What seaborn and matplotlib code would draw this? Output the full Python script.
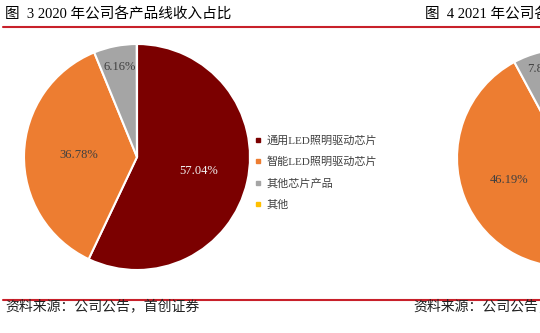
import matplotlib
matplotlib.use("Agg")
import matplotlib.pyplot as plt
import seaborn as sns
import numpy as np
from matplotlib.lines import Line2D

# ---- data ----
categories = ["通用LED照明驱动芯片", "智能LED照明驱动芯片", "其他芯片产品", "其他"]
share_2020 = [57.04, 36.78, 6.16, 0.02]
share_2021 = [45.95, 46.19, 7.85, 0.01]
colors = ["#7B0000", "#ED7D31", "#A5A5A5", "#FFC000"]
title_2020 = "图  3 2020 年公司各产品线收入占比"
title_2021 = "图  4 2021 年公司各产品线收入占比"
source_text = "资料来源：公司公告，首创证券"

sns.set_theme(style="white")
plt.rcParams["font.family"] = ["Liberation Serif", "Noto Sans CJK SC", "DejaVu Sans"]

W, H = 540, 333
fig = plt.figure(figsize=(W / 100, H / 100), dpi=100)
fig.patch.set_facecolor("white")


def px_axes(x0, y0, x1, y1):
    return fig.add_axes([x0 / W, 1 - y1 / H, (x1 - x0) / W, (y1 - y0) / H])


def draw_pie(ax, values, dists, label_colors):
    wedges, _ = ax.pie(values, colors=colors, startangle=90, counterclock=False,
                       wedgeprops=dict(edgecolor="white", linewidth=1.5))
    for i, w in enumerate(wedges):
        if values[i] < 1:
            continue
        mid = np.deg2rad((w.theta1 + w.theta2) / 2)
        d = dists[i]
        ax.text(d * np.cos(mid), d * np.sin(mid), f"{values[i]:.2f}%",
                ha="center", va="center", fontsize=9, color=label_colors[i],
                family=["Liberation Serif"])
    ax.set_xlim(-1, 1)
    ax.set_ylim(-1, 1)
    ax.set_aspect("equal")
    ax.axis("off")
    return wedges


ax1 = px_axes(24, 44, 250, 270)
draw_pie(ax1, share_2020, [0.56, 0.52, 0.81, 0.5],
         ["#F2F2F2", "#404040", "#404040", "#404040"])

ax2 = px_axes(457, 49, 675, 267)
draw_pie(ax2, share_2021, [0.56, 0.56, 0.84, 0.5],
         ["#F2F2F2", "#404040", "#404040", "#404040"])

# legend
handles = [Line2D([0], [0], marker="s", linestyle="none", markersize=3.5,
                  markerfacecolor=c, markeredgecolor=c) for c in colors]
leg = fig.legend(handles, categories, loc="upper left",
                 bbox_to_anchor=(250 / W, 1 - 131 / H), frameon=False,
                 fontsize=8, handlelength=0.7, handletextpad=0.4,
                 labelspacing=1.0, borderaxespad=0)
for t in leg.get_texts():
    t.set_color("#404040")
    t.set_family(["Liberation Serif", "Noto Sans CJK SC"])

# titles
fig.text(5 / W, 1 - 14 / H, title_2020, fontsize=10.5, color="black",
         ha="left", va="center")
fig.text(425 / W, 1 - 14 / H, title_2021, fontsize=10.5, color="black",
         ha="left", va="center")

# red rules
for y in (26.5, 299.5):
    fig.add_artist(Line2D([3 / W, 1.0], [1 - y / H, 1 - y / H],
                          transform=fig.transFigure, color="#C8202A", linewidth=1.5))

# sources
fig.text(5 / W, 1 - 306 / H, source_text, fontsize=10, color="#202020",
         ha="left", va="center", style="italic")
fig.text(413 / W, 1 - 306 / H, source_text, fontsize=10, color="#202020",
         ha="left", va="center", style="italic")

fig.savefig("out.png", dpi=100, facecolor="white")
